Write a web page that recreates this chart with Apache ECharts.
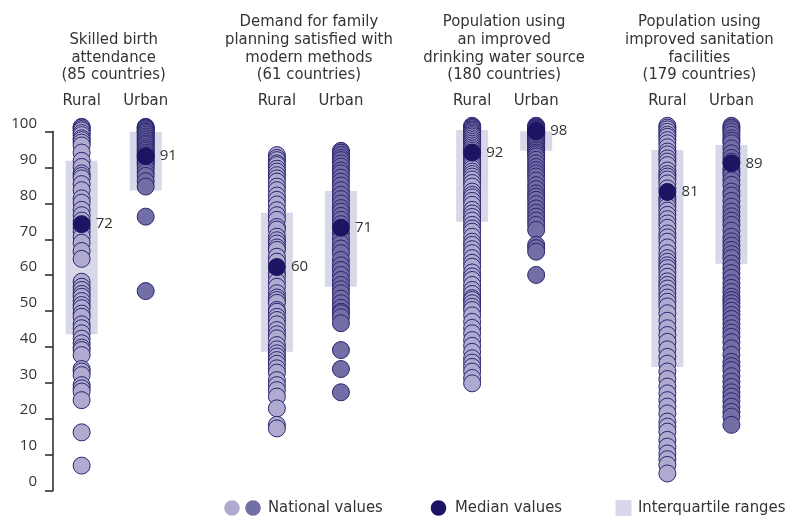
<!DOCTYPE html>
<html>
<head>
<meta charset="utf-8">
<script src="https://cdn.jsdelivr.net/npm/echarts@6/dist/echarts.min.js"></script>
<style>
  html, body { margin: 0; padding: 0; background: #fff; }
  #chart { width: 796px; height: 517px; }
</style>
</head>
<body>
<div id="chart"></div>
<script>
// Indicator headings (one line per array entry)
const groupTitles = [
  ['Skilled birth', 'attendance', '(85 countries)'],
  ['Demand for family', 'planning satisfied with', 'modern methods', '(61 countries)'],
  ['Population using', 'an improved', 'drinking water source', '(180 countries)'],
  ['Population using', 'improved sanitation', 'facilities', '(179 countries)']
];
const areaNames = ['Rural', 'Urban'];
const yTicks = [0, 10, 20, 30, 40, 50, 60, 70, 80, 90, 100];

// National values (%), per indicator, rural then urban
const birthRural = [99.2, 99, 98.6, 98.2, 97.5, 96.9, 96, 95.5, 94.8, 94, 92, 89.7, 88, 86.2, 85.5, 84.8, 83.2, 81.5, 79.2, 78, 76, 74.5, 73, 71, 69.9, 68.5, 66.8, 64.5, 62.3, 55.9, 54.5, 53.6, 52.5, 51.7, 50.5, 49.4, 48.5, 47, 46.1, 44, 42.9, 41.5, 40, 38.7, 37.5, 36.8, 35.4, 31.5, 30.8, 29.8, 27, 26.1, 25.2, 22.8, 13.8, 4.5];
const birthUrban = [99.2, 99, 98.8, 98.5, 98, 97.9, 97.5, 97, 96.5, 96, 95.5, 95, 94.5, 94.1, 93.5, 93, 92.5, 92, 91.5, 91, 90.5, 90, 89.5, 89, 88.5, 87.6, 86.5, 85.5, 84, 82.5, 74.1, 53.3];
const familyRural = [91.3, 90.5, 89.9, 89, 88.5, 87.5, 86.7, 85.7, 84.8, 83.9, 82.5, 81.5, 80, 78.8, 77.5, 75.9, 74.5, 73.2, 71.2, 70.5, 68.5, 67.5, 66.6, 65.5, 64.8, 62.9, 61.5, 58.5, 57.5, 55.9, 54.5, 52.7, 51.5, 50.8, 50, 48, 47.5, 46.1, 45.2, 44, 42.4, 41.2, 40.1, 38.2, 37, 35.9, 35, 34, 33, 31.7, 30.5, 28.4, 27, 25.6, 23.8, 20.5, 15.9, 14.9];
const familyUrban = [92.5, 92, 91.3, 90.5, 89.9, 89, 88.1, 87, 86.2, 85, 83.9, 82.8, 81.5, 80.2, 79, 77.8, 76.5, 75.5, 74.3, 73.2, 72, 69.5, 68, 66.6, 65.2, 63.9, 62, 60.5, 59.2, 57.8, 56.4, 55, 53.8, 52.7, 51.2, 49.9, 48.6, 47.5, 47.1, 46, 44.3, 36.8, 31.5, 25];
const waterRural = [99.5, 99.2, 99, 98.8, 98.5, 98.2, 98, 97.6, 97.2, 96.9, 96.5, 96, 95.5, 95, 94.5, 94, 93.5, 93, 92.5, 92, 91.3, 90.5, 90, 89.5, 89, 88.2, 87.5, 86.7, 86, 85.3, 84.5, 83.5, 82.5, 81.1, 80.2, 79.5, 78.5, 77.4, 76, 75, 74, 73, 71.8, 70.8, 69.9, 68.5, 67.1, 66.2, 65, 63.9, 62.5, 61.2, 60.1, 58.5, 57.4, 56.4, 55, 53.6, 52.5, 51.3, 50.8, 49.9, 48.9, 48, 46.5, 44.7, 43, 41.5, 39.6, 38, 36.3, 34.5, 33.3, 32.1, 30.8, 29, 27.5];
const waterUrban = [99.5, 99.3, 99, 98.8, 98.6, 98.4, 98.2, 98, 97.8, 97.6, 97.4, 97.2, 97, 96.8, 96.5, 96.2, 96, 95.5, 95, 94.5, 94.1, 93.5, 93, 92.5, 92, 91.5, 90.9, 90, 89, 88, 87.1, 86.2, 85.3, 84.2, 82.9, 81.8, 80.6, 79.7, 78.8, 77.6, 76.4, 75.2, 74.1, 73, 71.8, 70.4, 66.2, 65.3, 64.3, 57.8];
const sanitationRural = [99.5, 99, 98.5, 97.8, 97, 96.4, 95.5, 94.6, 93.5, 92.3, 91.5, 90.4, 89.5, 88.5, 87, 86, 85.3, 84.5, 83.4, 82, 79.5, 78.8, 77.8, 76.9, 75.8, 74.6, 73.4, 72.2, 71, 69.4, 68.3, 67.1, 65.5, 63.9, 62.5, 61.5, 60.5, 59.7, 58.5, 57.3, 56, 55, 54, 52.7, 51.5, 50.3, 49, 47.1, 45, 42.9, 41, 39.1, 37, 34.9, 33, 30.8, 28.7, 26.6, 24.7, 22.8, 21, 19.1, 16.8, 15.4, 14, 11.7, 9.8, 7.9, 6.3, 4.7, 2.3];
const sanitationUrban = [99.5, 99, 98.5, 97.8, 97, 96, 95.3, 94.6, 93.2, 91.8, 90.5, 89.5, 87.5, 86.5, 85.7, 84.3, 83, 81.1, 80, 78.5, 76.9, 75.5, 74.2, 73, 71.8, 70.2, 68.5, 67.2, 66, 64.8, 63.6, 62.5, 61, 59.7, 58.3, 57, 55.5, 54.2, 53, 51.7, 50.8, 49.9, 48.9, 47.8, 46.6, 45.5, 44.2, 42.9, 41.7, 40.5, 39, 37.3, 35.5, 33.5, 32.3, 31.2, 29.5, 28, 26.5, 25, 23.8, 22.5, 21, 19.5, 18.2, 15.9];

// Medians and interquartile ranges, in column order (rural, urban per indicator)
const medians = [72, 91, 60, 71, 92, 98, 81, 89];
const q1Values = [41.2, 81.4, 36.3, 54.5, 72.7, 92.5, 32.1, 60.9];
const q3Values = [89.7, 97.8, 75.2, 81.3, 98.3, 98.0, 92.7, 94.1];

// Column layout on the x value axis: indicator g at 3g, urban column just right of rural
const GROUP_STEP = 3;
const URBAN_OFFSET = 0.984;
const colX = [];
for (let g = 0; g < 4; g++) { colX.push(g * GROUP_STEP, g * GROUP_STEP + URBAN_OFFSET); }

const ruralSets = [birthRural, familyRural, waterRural, sanitationRural];
const urbanSets = [birthUrban, familyUrban, waterUrban, sanitationUrban];

const ruralPoints = [];
const urbanPoints = [];
ruralSets.forEach((vals, g) => vals.forEach(v => ruralPoints.push([colX[2 * g], v])));
urbanSets.forEach((vals, g) => vals.forEach(v => urbanPoints.push([colX[2 * g + 1], v])));
const medianPoints = medians.map((m, i) => [colX[i], m]);
const iqrData = q1Values.map((q, i) => [colX[i], q, q3Values[i]]);

const RURAL_FILL = '#aeaad0';
const URBAN_FILL = '#726ea6';
const OUTLINE = '#2a256f';
const MEDIAN_FILL = '#1b1563';
const IQR_FILL = '#d9d8e9';
const TEXT = '#333333';
const HEAD_FONT = "'Liberation Sans Narrow', 'DejaVu Sans Condensed', sans-serif";
const NUM_FONT = "'Open Sans', 'Noto Sans', sans-serif";

const chart = echarts.init(document.getElementById('chart'), null, { renderer: 'canvas' });

const X_MIN = -0.44, X_MAX = 10.5;

chart.setOption({
  animation: false,
  grid: [
    { left: 53, right: 31, top: 124, bottom: 35.3 },
    { left: 53, right: 31, top: 131.5, bottom: 26.3 }
  ],
  xAxis: [
    { type: 'value', gridIndex: 0, min: X_MIN, max: X_MAX, show: false },
    { type: 'value', gridIndex: 1, min: X_MIN, max: X_MAX, show: false }
  ],
  yAxis: [
    {
      type: 'value', gridIndex: 0, min: 0, max: 100, interval: 10,
      axisLine: { show: false }, axisTick: { show: false }, splitLine: { show: false },
      axisLabel: {
        margin: 16, color: TEXT, fontSize: 15, fontFamily: NUM_FONT,
        formatter: v => (yTicks.indexOf(v) >= 0 ? String(v) : '')
      }
    },
    {
      type: 'value', gridIndex: 1, min: 0, max: 100, interval: 10,
      axisLine: { show: true, onZero: false, lineStyle: { color: '#333', width: 1.6 } },
      axisTick: { show: true, length: 8, lineStyle: { color: '#333', width: 1.6 } },
      axisLabel: { show: false }, splitLine: { show: false }
    }
  ],
  series: [
    {
      type: 'custom',
      name: 'Interquartile ranges',
      xAxisIndex: 0, yAxisIndex: 0,
      data: iqrData,
      z: 1,
      renderItem: function (params, api) {
        const top = api.coord([api.value(0), api.value(2)]);
        const bottom = api.coord([api.value(0), api.value(1)]);
        const w = 32;
        return {
          type: 'rect',
          shape: { x: top[0] - w / 2, y: top[1], width: w, height: bottom[1] - top[1] },
          style: { fill: IQR_FILL }
        };
      }
    },
    {
      type: 'scatter', name: 'Rural', data: ruralPoints, z: 2,
      symbolSize: 17,
      itemStyle: { color: RURAL_FILL, borderColor: OUTLINE, borderWidth: 1, opacity: 1 }
    },
    {
      type: 'scatter', name: 'Urban', data: urbanPoints, z: 2,
      symbolSize: 17,
      itemStyle: { color: URBAN_FILL, borderColor: OUTLINE, borderWidth: 1, opacity: 1 }
    },
    {
      type: 'scatter', name: 'Median values', data: medianPoints, z: 3,
      symbolSize: 17,
      itemStyle: { color: MEDIAN_FILL, borderColor: MEDIAN_FILL, borderWidth: 1, opacity: 1 },
      label: {
        show: true, position: 'right', distance: 5,
        color: TEXT, fontSize: 15, fontFamily: NUM_FONT,
        formatter: p => String(p.value[1])
      }
    }
  ]
});

// Headings, column names and legend are placed from the x axis scale
const px = v => chart.convertToPixel({ xAxisIndex: 0 }, v);
const graphics = [];
const LINE_H = 17.7;
const LAST_LINE_Y = 75;
const HEAD_STYLE = { fill: TEXT, font: '16.5px ' + HEAD_FONT, textVerticalAlign: 'middle' };

groupTitles.forEach((lines, g) => {
  const cx = px(colX[2 * g] + URBAN_OFFSET / 2);
  lines.forEach((line, i) => {
    graphics.push({
      type: 'text', x: cx, y: LAST_LINE_Y - (lines.length - 1 - i) * LINE_H,
      style: Object.assign({ text: line, textAlign: 'center' }, HEAD_STYLE)
    });
  });
  areaNames.forEach((name, k) => {
    graphics.push({
      type: 'text', x: px(colX[2 * g + k]), y: 101,
      style: Object.assign({ text: name, textAlign: 'center' }, HEAD_STYLE)
    });
  });
});

// Legend
const LEG_Y = 508;
graphics.push(
  { type: 'circle', shape: { cx: 232, cy: LEG_Y, r: 7.8 }, style: { fill: RURAL_FILL } },
  { type: 'circle', shape: { cx: 253, cy: LEG_Y, r: 7.8 }, style: { fill: URBAN_FILL } },
  { type: 'text', x: 268, y: LEG_Y, style: Object.assign({ text: 'National values' }, HEAD_STYLE) },
  { type: 'circle', shape: { cx: 438.5, cy: LEG_Y, r: 7.8 }, style: { fill: MEDIAN_FILL } },
  { type: 'text', x: 455, y: LEG_Y, style: Object.assign({ text: 'Median values' }, HEAD_STYLE) },
  { type: 'rect', shape: { x: 615.5, y: LEG_Y - 8, width: 16, height: 16 }, style: { fill: IQR_FILL } },
  { type: 'text', x: 638, y: LEG_Y, style: Object.assign({ text: 'Interquartile ranges' }, HEAD_STYLE) }
);

chart.setOption({ graphic: graphics });
</script>
</body>
</html>
